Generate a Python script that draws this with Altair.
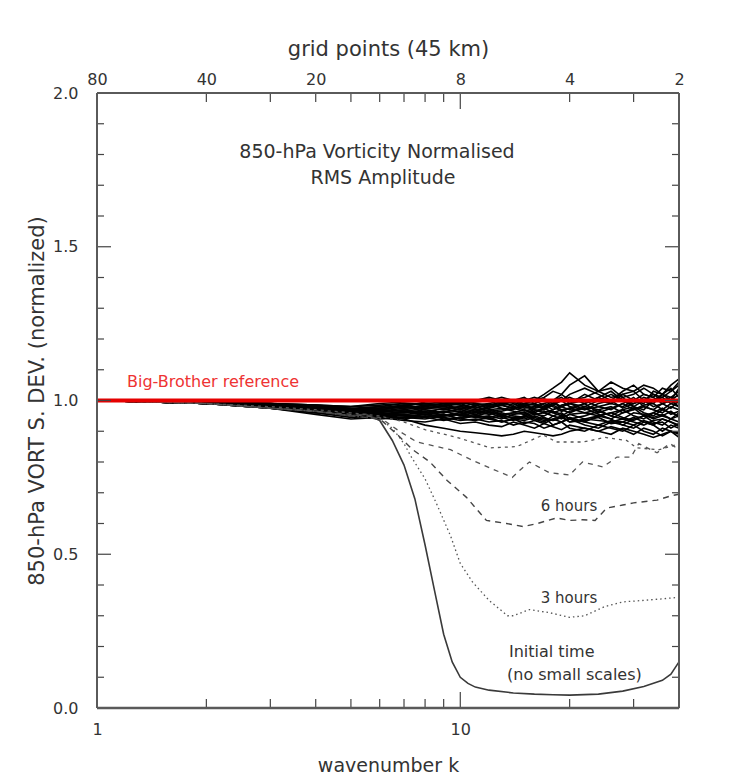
import altair as alt
import pandas as pd

# ---------------- data ----------------
K_BAND = [1, 2, 3, 4, 5, 6, 7, 8, 9, 10, 11, 12, 13, 14, 15, 16, 17, 18, 19, 20,
          22, 24, 26, 28, 30, 32, 34, 36, 38, 40]

BAND = [
    [1.00,0.995,0.99,0.985,0.98,0.985,0.99,0.99,0.995,1.00,0.99,0.98,0.985,1.00,1.01,0.99,0.98,1.00,1.02,1.05,1.08,1.03,1.01,1.02,1.00,0.99,1.03,1.02,1.00,1.04],
    [1.00,0.99,0.98,0.975,0.97,0.975,0.98,0.97,0.96,0.975,0.98,0.965,0.97,0.98,0.97,0.96,0.975,0.985,0.97,0.96,0.98,0.97,0.95,0.97,0.98,0.96,0.95,0.97,0.96,0.95],
    [1.00,0.99,0.985,0.97,0.96,0.97,0.965,0.955,0.95,0.96,0.945,0.95,0.94,0.955,0.96,0.94,0.93,0.95,0.96,0.94,0.93,0.95,0.94,0.92,0.94,0.95,0.93,0.92,0.94,0.93],
    [1.00,0.995,0.985,0.98,0.975,0.98,0.975,0.985,0.98,0.97,0.985,0.99,0.975,0.97,0.99,1.00,0.985,0.97,0.98,0.99,1.00,0.98,0.97,0.99,1.01,0.98,0.97,0.99,1.00,0.98],
    [1.00,0.99,0.975,0.965,0.955,0.96,0.95,0.945,0.955,0.94,0.935,0.945,0.93,0.94,0.925,0.935,0.945,0.92,0.93,0.94,0.92,0.91,0.93,0.92,0.91,0.93,0.92,0.90,0.92,0.91],
    [1.00,0.995,0.99,0.98,0.97,0.965,0.975,0.98,0.99,0.985,0.975,0.99,1.00,0.99,0.975,0.98,0.99,1.00,1.01,0.99,0.98,1.00,1.02,1.00,0.99,1.01,1.00,1.02,1.01,1.03],
    [1.00,0.99,0.98,0.97,0.95,0.955,0.96,0.965,0.95,0.955,0.965,0.955,0.96,0.95,0.945,0.955,0.96,0.95,0.94,0.955,0.96,0.95,0.96,0.97,0.95,0.94,0.96,0.95,0.94,0.96],
    [1.00,0.995,0.99,0.985,0.975,0.97,0.98,0.975,0.97,0.98,0.99,0.985,0.99,1.00,0.985,0.975,0.98,0.99,0.98,0.97,0.99,1.01,0.99,0.98,1.00,1.02,1.01,0.99,1.00,1.02],
    [1.00,0.99,0.98,0.97,0.96,0.95,0.94,0.95,0.945,0.935,0.94,0.93,0.935,0.92,0.93,0.925,0.91,0.92,0.93,0.91,0.90,0.92,0.91,0.90,0.92,0.90,0.89,0.91,0.90,0.89],
    [1.00,0.995,0.985,0.975,0.965,0.975,0.985,0.99,0.985,0.995,1.00,1.005,0.99,0.985,1.00,1.01,1.00,0.99,1.00,1.02,1.04,1.02,1.00,1.03,1.05,1.02,1.01,1.04,1.03,1.05],
    [1.00,0.99,0.98,0.965,0.955,0.965,0.97,0.96,0.965,0.97,0.96,0.97,0.975,0.965,0.96,0.97,0.965,0.96,0.97,0.975,0.96,0.97,0.98,0.96,0.97,0.98,0.97,0.96,0.98,0.97],
    [1.00,0.995,0.99,0.98,0.97,0.96,0.97,0.98,0.975,0.96,0.97,0.975,0.985,0.975,0.965,0.975,0.99,0.98,0.965,0.975,0.99,0.96,0.975,0.99,0.97,0.985,0.99,0.97,0.99,1.00],
    [1.00,0.99,0.975,0.96,0.945,0.95,0.945,0.94,0.95,0.955,0.945,0.94,0.95,0.945,0.94,0.95,0.94,0.935,0.945,0.93,0.94,0.935,0.93,0.94,0.93,0.92,0.935,0.94,0.93,0.92],
    [1.00,0.995,0.99,0.985,0.98,0.99,0.995,1.00,0.995,0.99,1.00,1.01,1.00,0.995,1.005,1.00,1.01,1.03,1.02,1.00,1.01,1.03,1.04,1.01,1.02,1.04,1.02,1.01,1.03,1.06],
    [1.00,0.99,0.98,0.97,0.96,0.955,0.94,0.92,0.91,0.90,0.895,0.89,0.885,0.89,0.90,0.895,0.89,0.885,0.89,0.90,0.91,0.90,0.89,0.91,0.90,0.89,0.88,0.89,0.90,0.88],
    [1.00,0.995,0.985,0.975,0.965,0.97,0.98,0.995,1.00,0.99,0.995,1.00,1.01,1.00,0.99,1.00,1.02,1.04,1.06,1.09,1.05,1.03,1.06,1.04,1.03,1.05,1.04,1.02,1.05,1.07],
    [1.00,0.99,0.98,0.965,0.95,0.955,0.95,0.955,0.965,0.95,0.96,0.97,0.955,0.96,0.97,0.955,0.95,0.965,0.955,0.94,0.95,0.965,0.95,0.94,0.96,0.955,0.94,0.95,0.965,0.945],
    [1.00,0.995,0.99,0.98,0.97,0.975,0.985,0.975,0.98,0.99,0.975,0.985,0.995,0.98,0.99,0.985,0.975,0.99,1.00,1.01,0.99,1.01,1.03,1.00,0.98,1.00,1.02,1.00,1.01,0.99],
    [1.00,0.99,0.975,0.955,0.94,0.945,0.935,0.93,0.94,0.925,0.93,0.92,0.915,0.93,0.92,0.91,0.925,0.915,0.905,0.92,0.91,0.90,0.915,0.905,0.89,0.91,0.90,0.885,0.90,0.895],
    [1.00,0.995,0.985,0.97,0.96,0.965,0.96,0.97,0.96,0.965,0.955,0.965,0.95,0.96,0.955,0.965,0.975,0.96,0.95,0.965,0.975,0.955,0.94,0.96,0.975,0.95,0.96,0.975,0.955,0.965],
    [1.00,0.99,0.98,0.97,0.96,0.955,0.965,0.975,0.985,0.975,0.965,0.98,0.985,0.975,0.985,0.99,0.97,0.985,1.00,0.98,0.97,0.99,1.00,0.975,0.99,1.00,0.98,0.99,0.975,1.00],
    [1.00,0.99,0.98,0.96,0.95,0.94,0.945,0.955,0.94,0.945,0.955,0.94,0.93,0.94,0.95,0.935,0.925,0.94,0.95,0.93,0.935,0.945,0.925,0.93,0.945,0.93,0.92,0.94,0.93,0.915],
    [1.00,0.995,0.99,0.98,0.97,0.98,0.99,0.985,0.99,0.995,0.985,0.975,0.99,0.995,0.98,0.99,1.005,0.995,0.98,0.99,1.02,1.00,0.99,1.02,1.03,1.00,0.99,1.02,1.04,1.01],
    [1.00,0.99,0.975,0.96,0.95,0.95,0.955,0.945,0.935,0.945,0.95,0.945,0.955,0.94,0.935,0.945,0.935,0.94,0.93,0.945,0.93,0.92,0.935,0.93,0.92,0.935,0.925,0.93,0.91,0.925],
    [1.00,0.995,0.985,0.975,0.965,0.97,0.965,0.96,0.975,0.98,0.97,0.96,0.965,0.975,0.98,0.97,0.96,0.97,0.985,0.99,0.97,0.98,0.99,1.01,0.98,0.97,1.00,1.01,0.99,0.98],
    [1.00,0.99,0.98,0.965,0.955,0.96,0.955,0.96,0.955,0.94,0.95,0.96,0.945,0.935,0.95,0.96,0.945,0.935,0.945,0.955,0.94,0.95,0.96,0.945,0.935,0.95,0.945,0.955,0.94,0.95],
]

INIT_K = [1, 2, 3, 4, 5, 5.5, 6, 6.5, 7, 7.5, 8, 8.5, 9, 9.5, 10, 10.5, 11, 12, 14, 16, 18, 20, 24, 28, 32, 36, 38, 40]
INIT_V = [1.0, 0.99, 0.975, 0.965, 0.95, 0.955, 0.935, 0.87, 0.79, 0.68, 0.53, 0.38, 0.24, 0.15, 0.10, 0.08, 0.068, 0.058, 0.049, 0.045, 0.043, 0.042, 0.045, 0.055, 0.07, 0.09, 0.11, 0.15]

H3_K = [1, 2, 3, 4, 5, 6, 6.5, 7, 7.3, 8, 8.6, 9.4, 10, 10.8, 12, 13.5, 14, 15.5, 17.6, 20, 22, 25, 28, 32, 36, 40]
H3_V = [1.0, 0.99, 0.975, 0.965, 0.95, 0.94, 0.91, 0.86, 0.82, 0.745, 0.665, 0.56, 0.47, 0.41, 0.35, 0.30, 0.30, 0.32, 0.31, 0.295, 0.30, 0.33, 0.345, 0.35, 0.355, 0.36]

H6_K = [1, 2, 3, 4, 5, 6, 6.7, 7.4, 8.25, 9.2, 10.4, 11.8, 13.4, 14.9, 16.3, 18.4, 20, 21.7, 23.5, 25.3, 28, 30, 34.8, 38, 40]
H6_V = [1.0, 0.99, 0.975, 0.965, 0.95, 0.94, 0.89, 0.84, 0.80, 0.74, 0.685, 0.61, 0.60, 0.59, 0.60, 0.618, 0.61, 0.612, 0.61, 0.65, 0.66, 0.667, 0.676, 0.69, 0.695]

H9_K = [1, 2, 3, 4, 5, 6, 6.8, 7.6, 9.4, 10.6, 12.1, 13.9, 14.8, 15.5, 17.6, 20, 21.7, 24.7, 27, 29.5, 31, 34.8, 37.8, 40]
H9_V = [1.0, 0.99, 0.975, 0.965, 0.955, 0.945, 0.90, 0.865, 0.84, 0.81, 0.78, 0.75, 0.78, 0.80, 0.765, 0.758, 0.80, 0.784, 0.816, 0.816, 0.86, 0.83, 0.86, 0.84]

H12_K = [1, 2, 3, 4, 5, 6, 7, 8, 9.8, 12.1, 14.3, 16.9, 18.4, 21.8, 25, 28.7, 30.6, 35.3, 39, 40]
H12_V = [1.0, 0.99, 0.98, 0.97, 0.96, 0.95, 0.93, 0.905, 0.88, 0.846, 0.85, 0.888, 0.865, 0.865, 0.88, 0.87, 0.846, 0.84, 0.855, 0.86]

REFERENCE = [1.0]

X_BOTTOM_VALUES = [1, 10]
X_TOP_K = [1, 2, 4, 10, 20, 40]
X_TOP_LABELS = ["80", "40", "20", "8", "4", "2"]
X_MINOR = [2, 3, 4, 5, 6, 7, 8, 9, 20, 30]
X_MAJOR = [10]
Y_LABELS = [0.0, 0.5, 1.0, 1.5, 2.0]
Y_MAJOR = [0.5, 1.0, 1.5]
Y_MINOR = [0.1, 0.2, 0.3, 0.4, 0.6, 0.7, 0.8, 0.9, 1.1, 1.2, 1.3, 1.4, 1.6, 1.7, 1.8, 1.9]

# ---------------- tables ----------------
band_rows = []
for i, vals in enumerate(BAND):
    for k, v in zip(K_BAND, vals):
        band_rows.append({"run": i, "k": k, "v": v})
band_df = pd.DataFrame(band_rows)

def series(ks, vs, name):
    return pd.DataFrame({"k": ks, "v": vs, "run": name})

init_df = series(INIT_K, INIT_V, "init")
h3_df = series(H3_K, H3_V, "3h")
h6_df = series(H6_K, H6_V, "6h")
h9_df = series(H9_K, H9_V, "9h")
h12_df = series(H12_K, H12_V, "12h")

W, H = 582, 615
FONT = "DejaVu Sans"
TXT = "#333333"

xs = alt.Scale(type="log", domain=[1, 40], nice=False)
ys = alt.Scale(domain=[0, 2], nice=False, zero=False)

bottom_axis = alt.Axis(
    values=X_BOTTOM_VALUES, format="d", ticks=False, domain=False, grid=False,
    labelFont=FONT, labelFontSize=16, labelColor=TXT, labelPadding=13,
    labelFlush=False, title="wavenumber  k", titleFont=FONT, titleFontSize=19,
    titleFontWeight="normal", titleColor=TXT, titlePadding=19,
)
top_expr = "".join(f"datum.value == {k} ? '{lab}' : " for k, lab in zip(X_TOP_K, X_TOP_LABELS)) + "''"
top_axis = alt.Axis(
    orient="top", values=X_TOP_K, labelExpr=top_expr, ticks=False, domain=False,
    grid=False, labelFont=FONT, labelFontSize=16, labelColor=TXT, labelPadding=6,
    labelFlush=False, title="grid points  (45 km)", titleFont=FONT, titleFontSize=21,
    titleFontWeight="normal", titleColor=TXT, titlePadding=12,
)
y_axis = alt.Axis(
    values=Y_LABELS, format=".1f", ticks=False, domain=False, grid=False,
    labelFont=FONT, labelFontSize=16, labelColor=TXT, labelPadding=19,
    labelFlush=False, title="850-hPa VORT S. DEV. (normalized)", titleFont=FONT,
    titleFontSize=21, titleFontWeight="normal", titleColor=TXT, titlePadding=5,
)

band = alt.Chart(band_df).mark_line(color="#000000", strokeWidth=1.6).encode(
    x=alt.X("k:Q", scale=xs, axis=bottom_axis),
    y=alt.Y("v:Q", scale=ys, axis=y_axis),
    detail="run:N",
)

def line(df, dash=None, color="#333333", width=1.3):
    kw = dict(color=color, strokeWidth=width)
    if dash:
        kw["strokeDash"] = dash
    return alt.Chart(df).mark_line(**kw).encode(
        x=alt.X("k:Q", scale=xs, axis=None),
        y=alt.Y("v:Q", scale=ys, axis=None),
    )

init_l = line(init_df, None, "#3a3a3a", 1.6)
h3_l = line(h3_df, [1.5, 3], "#555555", 1.3)
h6_l = line(h6_df, [6, 5], "#444444", 1.4)
h9_l = line(h9_df, [5, 5], "#555555", 1.3)
h12_l = line(h12_df, [3, 4], "#555555", 1.3)

ref = alt.Chart(pd.DataFrame({"v": REFERENCE})).mark_rule(color="#e60000", strokeWidth=4).encode(
    y=alt.Y("v:Q", scale=ys, axis=None)
)

tick_col = "#444444"
xmin_df = pd.DataFrame({"k": X_MINOR})
xmaj_df = pd.DataFrame({"k": X_MAJOR})

def xticks(df, y0, y1, axis=None):
    return alt.Chart(df).mark_rule(color=tick_col, strokeWidth=1.2).encode(
        x=alt.X("k:Q", scale=xs, axis=axis), y=alt.value(y0), y2=alt.value(y1)
    )

top_ticks_minor = xticks(xmin_df, 0, 9, top_axis)
top_ticks_major = xticks(xmaj_df, 0, 16)
bot_ticks_minor = xticks(xmin_df, H, H - 9)
bot_ticks_major = xticks(xmaj_df, H, H - 16)

ymin_df = pd.DataFrame({"v": Y_MINOR})
ymaj_df = pd.DataFrame({"v": Y_MAJOR})

def yticks(df, x0, x1):
    return alt.Chart(df).mark_rule(color=tick_col, strokeWidth=1.2).encode(
        y=alt.Y("v:Q", scale=ys, axis=None), x=alt.value(x0), x2=alt.value(x1)
    )

y_ticks = [
    yticks(ymin_df, 0, 7), yticks(ymaj_df, 0, 14),
    yticks(ymin_df, W, W - 7), yticks(ymaj_df, W, W - 14),
]

one = pd.DataFrame({"a": [0]})
FRAME = "#5a5a5a"
frame = [
    alt.Chart(one).mark_rule(color=FRAME, strokeWidth=2).encode(x=alt.value(0), x2=alt.value(W), y=alt.value(0)),
    alt.Chart(one).mark_rule(color=FRAME, strokeWidth=2.5).encode(x=alt.value(0), x2=alt.value(W), y=alt.value(H)),
    alt.Chart(one).mark_rule(color=FRAME, strokeWidth=2).encode(y=alt.value(0), y2=alt.value(H), x=alt.value(0)),
    alt.Chart(one).mark_rule(color=FRAME, strokeWidth=2).encode(y=alt.value(0), y2=alt.value(H), x=alt.value(W)),
]

def label(text, x, y, size=15, color=TXT, align="center"):
    return alt.Chart(one).mark_text(
        text=text, font=FONT, fontSize=size, color=color, align=align, baseline="middle"
    ).encode(x=alt.value(x), y=alt.value(y))

texts = [
    label("850-hPa Vorticity Normalised", 280, 59, 19),
    label("RMS Amplitude", 286, 85, 19),
    label("Big-Brother reference", 30, 289, 16, "#ee3333", "left"),
    label("6 hours", 472, 413, 15),
    label("3 hours", 472, 505, 15),
    label("Initial time", 412, 559, 16, TXT, "left"),
    label("(no small scales)", 410, 582, 16, TXT, "left"),
]

chart = alt.layer(
    band, init_l, h3_l, h6_l, h9_l, h12_l, ref,
    top_ticks_minor, top_ticks_major, bot_ticks_minor, bot_ticks_major,
    *y_ticks, *frame, *texts,
).resolve_axis(x="independent", y="independent").properties(
    width=W, height=H,
    autosize=alt.AutoSizeParams(type="none"),
    padding={"left": 89, "top": 85, "right": 40, "bottom": 66},
).configure_view(stroke=None).configure(background="white")

chart.save("out.html", embed_options={"renderer": "svg", "actions": False})
